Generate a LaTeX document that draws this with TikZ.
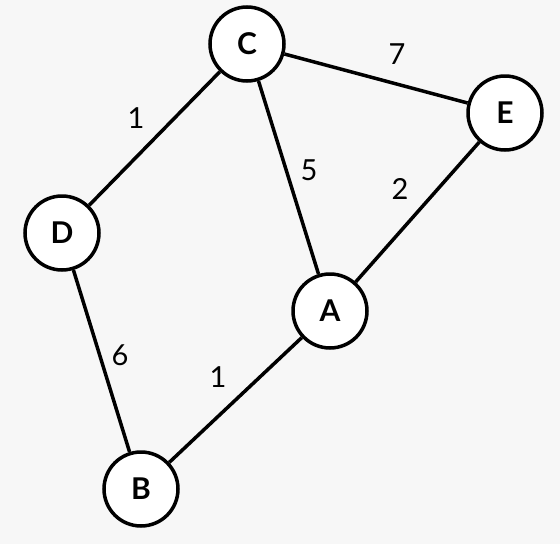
\documentclass[tikz,border=0pt]{standalone}
\usepackage{fontspec}
\setmainfont{Lato}
\definecolor{bgc}{HTML}{F7F7F7}
\begin{document}
\begin{tikzpicture}[x=1pt,y=-1pt,
  vert/.style={circle,draw=black,fill=white,line width=3.5pt,minimum size=74pt,inner sep=0pt,font=\fontsize{30}{30}\selectfont\bfseries},
  edge/.style={line width=3.5pt,black},
  wt/.style={font=\fontsize{29}{29}\selectfont,inner sep=0pt}]
\fill[bgc] (0,0) rectangle (560,544);
\useasboundingbox (0,0) rectangle (560,544);
\node[vert] (C) at (247,44) {C};
\node[vert] (E) at (505,113) {E};
\node[vert] (D) at (62,233) {D};
\node[vert] (A) at (330,311) {A};
\node[vert] (B) at (141,489) {B};
\draw[edge] (C) -- (E);
\draw[edge] (C) -- (D);
\draw[edge] (C) -- (A);
\draw[edge] (E) -- (A);
\draw[edge] (D) -- (B);
\draw[edge] (A) -- (B);
\node[wt] (w1) at (397,54) {7};
\node[wt] (w2) at (136,118) {1};
\node[wt] (w3) at (309,170) {5};
\node[wt] (w4) at (400,189) {2};
\node[wt] (w5) at (120,355) {6};
\node[wt] (w6) at (218,377) {1};
\end{tikzpicture}
\end{document}
